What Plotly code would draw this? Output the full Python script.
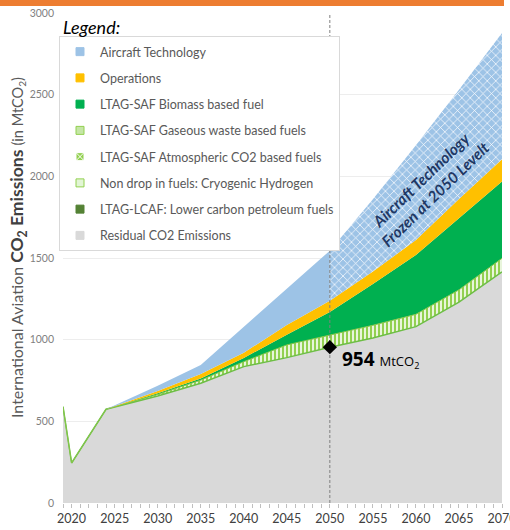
import plotly.graph_objects as go
import numpy as np

# ---------------- data (MtCO2) ----------------
years = [2019, 2020, 2024, 2030, 2035, 2040, 2045, 2050, 2055, 2060, 2065, 2070]
residual = [590, 245, 574, 655, 733, 835, 890, 954, 1010, 1080, 1230, 1415]
gaseous = [0, 0, 0, 10, 19, 30, 78, 76, 78, 75, 75, 83]
biomass = [0, 0, 0, 7, 11, 23, 62, 140, 253, 364, 438, 470]
operations = [0, 0, 0, 13, 27, 32, 60, 68, 76, 91, 118, 137]
aircraft = [0, 0, 0, 33, 55, 158, 222, 307, 443, 580, 669, 773]
freeze_year = 2050
marker_value = 954

legend_names = [
    "Aircraft Technology",
    "Operations",
    "LTAG-SAF Biomass based fuel",
    "LTAG-SAF Gaseous waste based fuels",
    "LTAG-SAF Atmospheric CO2 based fuels",
    "Non drop in fuels: Cryogenic Hydrogen",
    "LTAG-LCAF: Lower carbon petroleum fuels",
    "Residual CO2 Emissions",
]
legend_fill = ["#9DC3E6", "#FFC000", "#00B050", "#C5E6A6", "#92D050", "#E2F5D5", "#548235", "#D9D9D9"]
legend_line = ["#9DC3E6", "#FFC000", "#00B050", "#92D050", "#FFFFFF", "#92D050", "#548235", "#D9D9D9"]
legend_symbol = ["square", "square", "square", "square", "square-x", "square", "square", "square"]

# ---------------- stacking ----------------
res = np.array(residual, float)
gas_top = res + np.array(gaseous, float)
bio_top = gas_top + np.array(biomass, float)
ops_top = bio_top + np.array(operations, float)
air_top = ops_top + np.array(aircraft, float)
k = years.index(freeze_year)

NOLINE = dict(width=0, color="rgba(0,0,0,0)")

fig = go.Figure()

fig.add_trace(go.Scatter(x=years, y=res, fill="tozeroy", fillcolor="#D9D9D9", mode="lines",
                         line=dict(color="#6DBE45", width=1.5), showlegend=False, hoverinfo="skip"))
fig.add_trace(go.Scatter(x=years, y=gas_top, fill="tonexty", fillcolor="#92D050",
                         fillpattern=dict(shape="|", fgcolor="#FFFFFF", bgcolor="#92D050", size=4, solidity=0.4),
                         mode="lines", line=dict(color="#86C74A", width=1), showlegend=False, hoverinfo="skip"))
fig.add_trace(go.Scatter(x=years, y=bio_top, fill="tonexty", fillcolor="#00B050", mode="lines", line=NOLINE,
                         showlegend=False, hoverinfo="skip"))
fig.add_trace(go.Scatter(x=years, y=ops_top, fill="tonexty", fillcolor="#FFC000", mode="lines", line=NOLINE,
                         showlegend=False, hoverinfo="skip"))
# aircraft technology up to 2050 (solid)
fig.add_trace(go.Scatter(x=years[:k + 1], y=list(ops_top[:k + 1]), mode="lines", line=NOLINE,
                         showlegend=False, hoverinfo="skip"))
fig.add_trace(go.Scatter(x=years[:k + 1], y=list(air_top[:k + 1]), fill="tonexty", fillcolor="#9DC3E6",
                         mode="lines", line=NOLINE, showlegend=False, hoverinfo="skip"))
# aircraft technology frozen after 2050 (hatched)
fig.add_trace(go.Scatter(x=years[k:], y=list(ops_top[k:]), mode="lines", line=NOLINE,
                         showlegend=False, hoverinfo="skip"))
fig.add_trace(go.Scatter(x=years[k:], y=list(air_top[k:]), fill="tonexty", fillcolor="#9DC3E6",
                         fillpattern=dict(shape="x", fgcolor="#FFFFFF", bgcolor="#9DC3E6", size=6, solidity=0.22),
                         mode="lines", line=NOLINE, showlegend=False, hoverinfo="skip"))

# dashed 2050 line and marker
fig.add_trace(go.Scatter(x=[freeze_year, freeze_year], y=[0, 3000], mode="lines",
                         line=dict(color="#7F7F7F", width=1, dash="3px,2px"), showlegend=False, hoverinfo="skip"))
fig.add_trace(go.Scatter(x=[freeze_year], y=[marker_value], mode="markers",
                         marker=dict(symbol="diamond", size=11, color="black"), showlegend=False, hoverinfo="skip"))

# legend entries
for n, fc, lc, sy in zip(legend_names, legend_fill, legend_line, legend_symbol):
    fig.add_trace(go.Scatter(x=[None], y=[None], mode="markers", name=n, legendgroup=n,
                             marker=dict(symbol=sy, size=8, color=fc, line=dict(color=lc, width=1))))

# orange top border of the slide
fig.add_shape(type="rect", xref="paper", yref="paper", x0=-63 / 439, x1=(504 - 63) / 439,
              y0=(503 - 6) / 490, y1=503 / 490, line=dict(width=0), fillcolor="#ED7D31", layer="above")

fig.add_annotation(x=freeze_year, y=marker_value, xref="x", yref="y", xanchor="left", yanchor="middle",
                   xshift=10, yshift=-12, showarrow=False,
                   text="<b>954</b> <span style='font-size:13px'>MtCO<sub>2</sub></span>",
                   font=dict(family="Open Sans", size=19, color="#000000"))
fig.add_annotation(x=2061.4, y=1935, xref="x", yref="y", showarrow=False, textangle=-44,
                   text="<b><i>Aircraft Technology<br>Frozen at 2050 Levelt</i></b>",
                   font=dict(family="Lato", size=15.5, color="#1F3864"))
fig.add_annotation(x=-2 / 439, y=(503 - 27) / 490, xref="paper", yref="paper", xanchor="left", yanchor="middle",
                   showarrow=False, text="<i>Legend:</i>", font=dict(family="Lato", size=18, color="#000000"))
# y-axis title
fig.add_annotation(x=(18 - 63) / 439, y=(503 - 248) / 490, xref="paper", yref="paper",
                   xanchor="center", yanchor="middle", showarrow=False, textangle=-90,
                   text="International Aviation <b><span style='color:#404040;font-size:17.5px'>CO<sub>2</sub> Emissions</span></b> "
                        "<span style='font-size:14.5px'>(in MtCO<sub>2</sub>)</span>",
                   font=dict(family="Lato", size=16, color="#595959"))

fig.update_layout(
    width=510, height=530, template="none",
    paper_bgcolor="white", plot_bgcolor="white",
    margin=dict(l=63, r=8, t=13, b=27),
    font=dict(family="Lato", color="#595959"),
    showlegend=True,
    legend=dict(x=-4 / 439, y=(503 - 36) / 490, xanchor="left", yanchor="top",
                bgcolor="white", bordercolor="#D9D9D9", borderwidth=1,
                font=dict(family="Lato", size=12.5, color="#595959"),
                tracegroupgap=7, traceorder="grouped"),
    xaxis=dict(range=[2019, 2070], tickvals=list(range(2020, 2071, 5)), ticks="outside", ticklen=4,
               tickcolor="#BFBFBF", showgrid=False, zeroline=False, showline=False, automargin=False,
               ticklabeloverflow="allow",
               tickfont=dict(family="Lato", size=12.5, color="#404040"),
               minor=dict(tickvals=list(range(2019, 2071)), ticks="outside", ticklen=4, tickcolor="#BFBFBF",
                          showgrid=False)),
    yaxis=dict(range=[0, 3000], dtick=500, showgrid=True, gridcolor="#EDEDED", gridwidth=1, zeroline=False,
               showline=False, ticks="", ticklabelstandoff=8, automargin=False,
               tickfont=dict(family="Lato", size=10.5, color="#7F7F7F")),
)

fig.write_html("out.html", config={"displayModeBar": False},
               post_script="document.body.style.margin='0px';")
